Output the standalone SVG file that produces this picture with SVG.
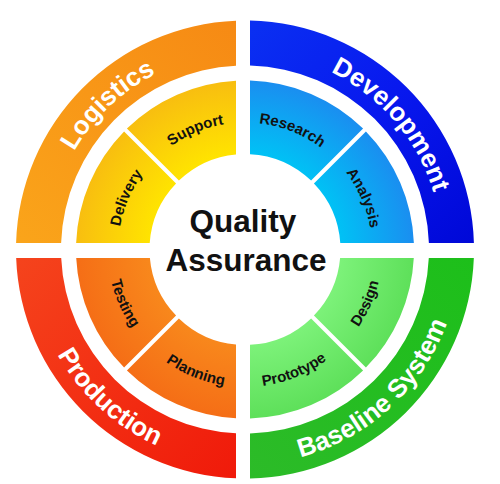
<svg xmlns="http://www.w3.org/2000/svg" xmlns:xlink="http://www.w3.org/1999/xlink" width="500" height="484" viewBox="0 0 500 484">
<style>
.outer{font-family:"Liberation Sans",Arial,sans-serif;font-weight:bold;font-size:26px;fill:#ffffff}
.inner{font-family:"Liberation Sans",Arial,sans-serif;font-weight:bold;font-size:15px;fill:#111111}
.title{font-family:"Liberation Sans",Arial,sans-serif;font-weight:bold;font-size:31.5px;fill:#111111;text-anchor:middle}
</style>
<defs>
<linearGradient id="gLog" gradientUnits="userSpaceOnUse" x1="20" y1="240" x2="236" y2="22">
<stop offset="0" stop-color="#FAA41A"/><stop offset="1" stop-color="#F68A14"/>
</linearGradient>
<linearGradient id="gDev" gradientUnits="userSpaceOnUse" x1="250" y1="22" x2="474" y2="240">
<stop offset="0" stop-color="#0A30F2"/><stop offset="0.5" stop-color="#0818EE"/><stop offset="1" stop-color="#0008D8"/>
</linearGradient>
<linearGradient id="gPro" gradientUnits="userSpaceOnUse" x1="20" y1="260" x2="236" y2="476">
<stop offset="0" stop-color="#F5431C"/><stop offset="1" stop-color="#F01A0A"/>
</linearGradient>
<linearGradient id="gBas" gradientUnits="userSpaceOnUse" x1="474" y1="260" x2="250" y2="476">
<stop offset="0" stop-color="#1DBF1A"/><stop offset="1" stop-color="#2CBB28"/>
</linearGradient>
<radialGradient id="gYel" gradientUnits="userSpaceOnUse" cx="245" cy="249.5" r="169">
<stop offset="0.56" stop-color="#FFE400"/><stop offset="1" stop-color="#F8BE10"/>
</radialGradient>
<radialGradient id="gCya" gradientUnits="userSpaceOnUse" cx="245" cy="249.5" r="169">
<stop offset="0.56" stop-color="#00C2F5"/><stop offset="1" stop-color="#1A8EF0"/>
</radialGradient>
<radialGradient id="gOra" gradientUnits="userSpaceOnUse" cx="245" cy="249.5" r="169">
<stop offset="0.56" stop-color="#F8881C"/><stop offset="1" stop-color="#F56E16"/>
</radialGradient>
<radialGradient id="gLgr" gradientUnits="userSpaceOnUse" cx="245" cy="249.5" r="169">
<stop offset="0.56" stop-color="#7DF27A"/><stop offset="1" stop-color="#5EE05A"/>
</radialGradient>
<path id="pLog" d="M64.34,328.05 A197,197 0 0 1 332.90,73.20"/>
<path id="pDev" d="M176.01,64.98 A197,197 0 0 1 416.46,346.51"/>
<path id="pPro" d="M46.37,167.22 A215,215 0 0 0 344.28,440.21"/>
<path id="pBas" d="M145.72,440.21 A215,215 0 0 0 443.63,167.22"/>
<path id="pSup" d="M121.01,276.99 A127,127 0 0 1 352.11,181.26"/>
<path id="pDel" d="M174.90,355.40 A127,127 0 0 1 274.65,126.01"/>
<path id="pRes" d="M136.71,183.14 A127,127 0 0 1 369.45,274.82"/>
<path id="pAna" d="M215.35,126.01 A127,127 0 0 1 315.10,355.40"/>
<path id="pDes" d="M211.74,382.92 A137.5,137.5 0 0 0 321.89,135.51"/>
<path id="pPrt" d="M128.39,322.36 A137.5,137.5 0 0 0 379.50,220.91"/>
<path id="pPla" d="M110.50,220.91 A137.5,137.5 0 0 0 361.61,322.36"/>
<path id="pTes" d="M168.11,135.51 A137.5,137.5 0 0 0 278.26,382.92"/>
</defs>
<rect width="500" height="484" fill="#ffffff"/>
<g id="logistics">
<path d="M16.09,243 A229,229 0 0 1 236,20.68 L236,65.72 A184,184 0 0 0 61.11,243 Z" fill="url(#gLog)"/>
<text class="outer"><textPath href="#pLog" xlink:href="#pLog" startOffset="50%" text-anchor="middle">Logistics</textPath></text>
</g>
<g id="development">
<path d="M250,20.55 A229,229 0 0 1 473.91,243 L428.89,243 A184,184 0 0 0 250,65.57 Z" fill="url(#gDev)"/>
<text class="outer"><textPath href="#pDev" xlink:href="#pDev" startOffset="50%" text-anchor="middle">Development</textPath></text>
</g>
<g id="baseline-system">
<path d="M473.84,258 A229,229 0 0 1 250,478.45 L250,433.43 A184,184 0 0 0 428.80,258 Z" fill="url(#gBas)"/>
<text class="outer"><textPath href="#pBas" xlink:href="#pBas" startOffset="50%" text-anchor="middle">Baseline System</textPath></text>
</g>
<g id="production">
<path d="M236,478.32 A229,229 0 0 1 16.16,258 L61.20,258 A184,184 0 0 0 236,433.28 Z" fill="url(#gPro)"/>
<text class="outer"><textPath href="#pPro" xlink:href="#pPro" startOffset="50%" text-anchor="middle">Production</textPath></text>
</g>
<g id="delivery">
<path d="M76.13,243 A169,169 0 0 1 124.09,131.42 L176.07,183.40 A95.5,95.5 0 0 0 149.72,243 Z" fill="url(#gYel)"/>
<text class="inner"><textPath href="#pDel" xlink:href="#pDel" startOffset="50%" text-anchor="middle">Delivery</textPath></text>
</g>
<g id="support">
<path d="M126.92,128.59 A169,169 0 0 1 236,80.74 L236,154.43 A95.5,95.5 0 0 0 178.90,180.57 Z" fill="url(#gYel)"/>
<text class="inner"><textPath href="#pSup" xlink:href="#pSup" startOffset="50%" text-anchor="middle">Support</textPath></text>
</g>
<g id="research">
<path d="M250,80.57 A169,169 0 0 1 363.08,128.59 L311.10,180.57 A95.5,95.5 0 0 0 250,154.13 Z" fill="url(#gCya)"/>
<text class="inner"><textPath href="#pRes" xlink:href="#pRes" startOffset="50%" text-anchor="middle">Research</textPath></text>
</g>
<g id="analysis">
<path d="M365.91,131.42 A169,169 0 0 1 413.88,243 L340.28,243 A95.5,95.5 0 0 0 313.93,183.40 Z" fill="url(#gCya)"/>
<text class="inner"><textPath href="#pAna" xlink:href="#pAna" startOffset="50%" text-anchor="middle">Analysis</textPath></text>
</g>
<g id="design">
<path d="M413.79,258 A169,169 0 0 1 365.91,367.58 L313.93,315.60 A95.5,95.5 0 0 0 340.12,258 Z" fill="url(#gLgr)"/>
<text class="inner"><textPath href="#pDes" xlink:href="#pDes" startOffset="50%" text-anchor="middle">Design</textPath></text>
</g>
<g id="prototype">
<path d="M363.08,370.41 A169,169 0 0 1 250,418.43 L250,344.87 A95.5,95.5 0 0 0 311.10,318.43 Z" fill="url(#gLgr)"/>
<text class="inner"><textPath href="#pPrt" xlink:href="#pPrt" startOffset="50%" text-anchor="middle">Prototype</textPath></text>
</g>
<g id="planning">
<path d="M236,418.26 A169,169 0 0 1 126.92,370.41 L178.90,318.43 A95.5,95.5 0 0 0 236,344.58 Z" fill="url(#gOra)"/>
<text class="inner"><textPath href="#pPla" xlink:href="#pPla" startOffset="50%" text-anchor="middle">Planning</textPath></text>
</g>
<g id="testing">
<path d="M124.09,367.58 A169,169 0 0 1 76.21,258 L149.88,258 A95.5,95.5 0 0 0 176.07,315.60 Z" fill="url(#gOra)"/>
<text class="inner"><textPath href="#pTes" xlink:href="#pTes" startOffset="50%" text-anchor="middle">Testing</textPath></text>
</g>
<g id="quality-assurance">
<text class="title" x="243" y="232">Quality</text>
<text class="title" x="246" y="271">Assurance</text>
</g>
<g id="connectors"/>
</svg>
